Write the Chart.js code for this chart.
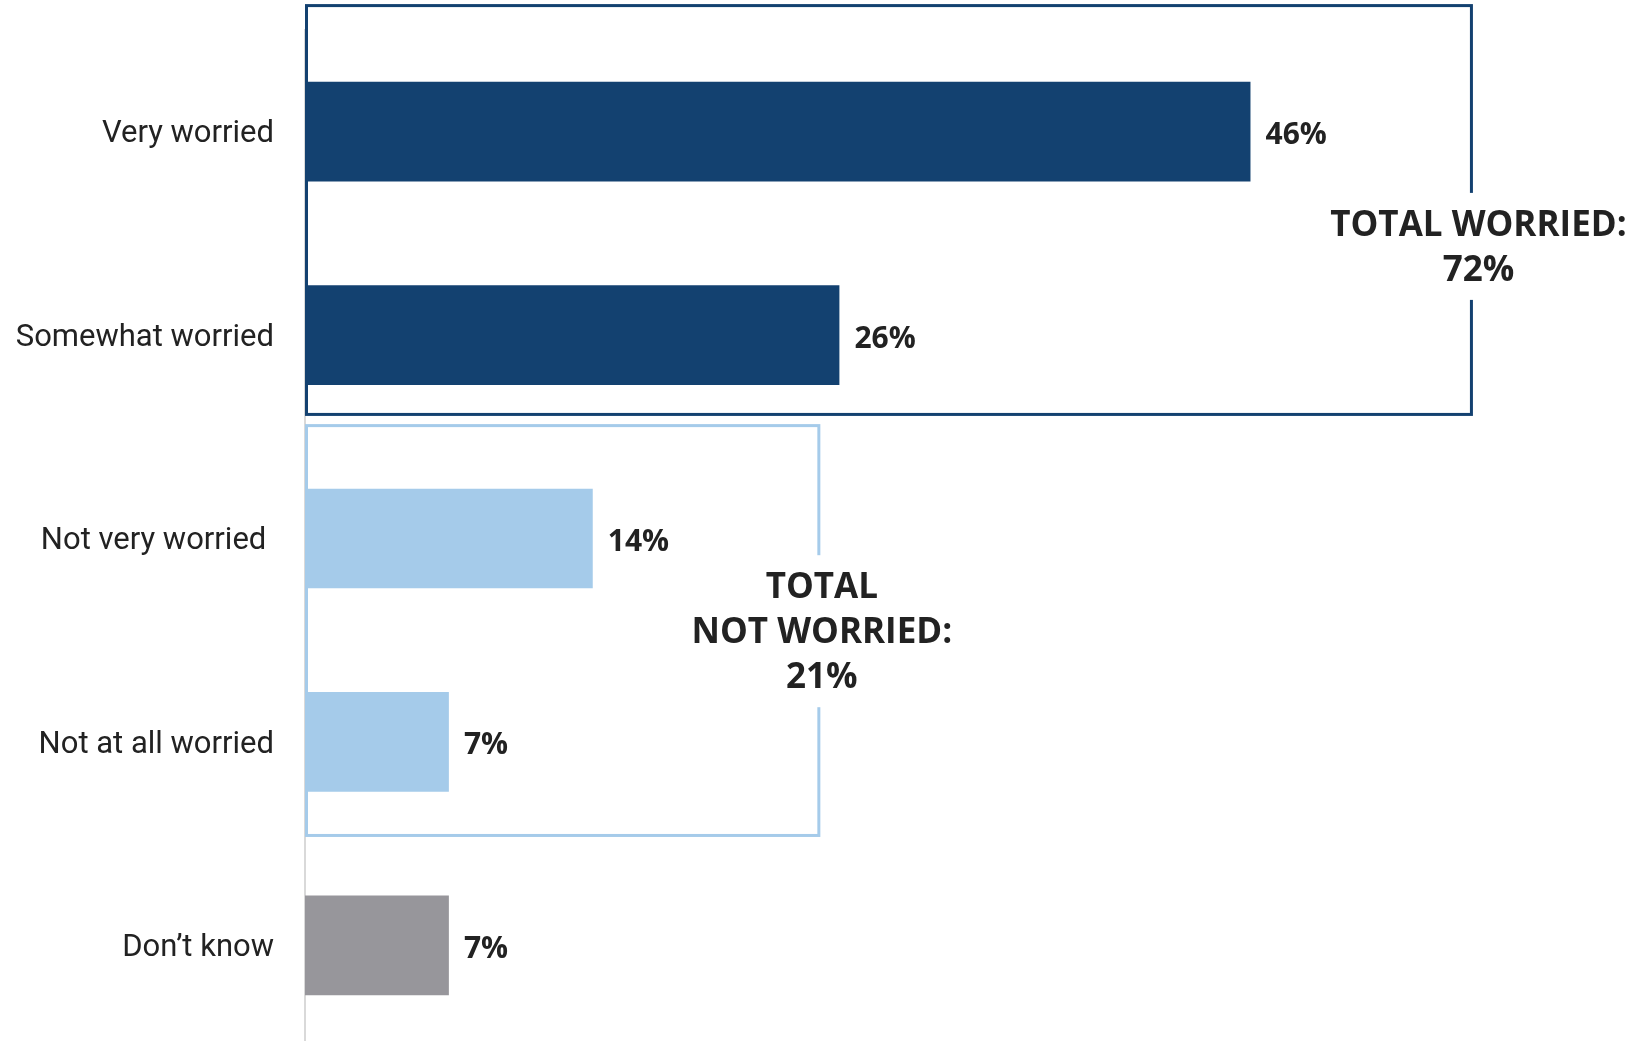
<!DOCTYPE html>
<html>
<head>
<meta charset="utf-8">
<script src="https://cdn.jsdelivr.net/npm/chart.js@4.4.1/dist/chart.umd.min.js"></script>
<style>
  html, body { margin: 0; padding: 0; background: #fff; overflow: hidden; }
  canvas { display: block; }
</style>
</head>
<body>
<canvas id="worryChart" width="1641" height="1047"></canvas>
<script>
// data
const categories = ['Very worried', 'Somewhat worried', 'Not very worried ', 'Not at all worried', 'Don\u2019t know'];
const values = [46, 26, 14, 7, 7];
const barColors = ['#134170', '#134170', '#a5cbea', '#a5cbea', '#97969b'];

// grouped totals (bracket boxes)
const groupNames = [['TOTAL WORRIED:', '72%'], ['TOTAL', 'NOT WORRIED:', '21%']];
const groupRows = [[0, 1], [2, 3]];
const groupBoxEnd = [56.75, 25];
const groupColors = ['#134170', '#a5cbea'];

const textColor = '#222222';

// value labels at end of each bar
const valueLabels = {
    id: 'valueLabels',
    afterDatasetsDraw(chart) {
        const ctx = chart.ctx;
        const meta = chart.getDatasetMeta(0);
        ctx.save();
        ctx.font = 'bold 30px "Open Sans"';
        ctx.fillStyle = textColor;
        ctx.textAlign = 'left';
        ctx.textBaseline = 'middle';
        meta.data.forEach((bar, i) => {
            ctx.fillText(values[i] + '%', bar.x + 15, bar.y + 4);
        });
        ctx.restore();
    }
};

// bracket boxes with the total labels sitting on the right edge
const groupBoxes = {
    id: 'groupBoxes',
    afterDatasetsDraw(chart) {
        const ctx = chart.ctx;
        const x = chart.scales.x, y = chart.scales.y;
        const step = y.getPixelForValue(1) - y.getPixelForValue(0);
        const pads = [[0.62, 0.39], [0.555, 0.46]];
        const shift = [15, -7];
        const dx = [7, 3];
        ctx.save();
        groupRows.forEach((rows, g) => {
            const left = x.getPixelForValue(0) + 1.5;
            const right = x.getPixelForValue(groupBoxEnd[g]);
            const top = y.getPixelForValue(rows[0]) - step * pads[g][0];
            const bottom = y.getPixelForValue(rows[1]) + step * pads[g][1];
            ctx.strokeStyle = groupColors[g];
            ctx.lineWidth = 3;
            ctx.strokeRect(left, top, right - left, bottom - top);

            // label, centred on the right edge
            const lines = groupNames[g];
            const lh = 45;
            const mid = (y.getPixelForValue(rows[0]) + y.getPixelForValue(rows[1])) / 2 + shift[g];
            const firstY = mid - (lines.length - 1) * lh / 2;
            const cx = right + dx[g];
            ctx.font = 'bold 35px "Open Sans"';
            const w = Math.max(...lines.map(t => ctx.measureText(t).width));
            ctx.fillStyle = '#fff';
            ctx.fillRect(cx - w / 2 - 4, firstY - 33, w + 8, (lines.length - 1) * lh + 62);
            ctx.fillStyle = textColor;
            ctx.textAlign = 'center';
            ctx.textBaseline = 'middle';
            lines.forEach((t, k) => ctx.fillText(t, cx, firstY + k * lh));
        });
        ctx.restore();
    }
};

new Chart(document.getElementById('worryChart').getContext('2d'), {
    type: 'bar',
    data: {
        labels: categories,
        datasets: [{
            data: values,
            backgroundColor: barColors,
            borderWidth: 0,
            barPercentage: 0.49,
            categoryPercentage: 1.0
        }]
    },
    options: {
        indexAxis: 'y',
        responsive: false,
        animation: false,
        layout: { autoPadding: false, padding: { top: 30, right: 0, bottom: 0, left: 0 } },
        plugins: {
            legend: { display: false },
            tooltip: { enabled: false }
        },
        scales: {
            x: {
                display: false,
                min: 0,
                max: 65
            },
            y: {
                afterFit(scale) {
                    scale.width = 305;
                    scale.paddingTop = 0;
                    scale.paddingBottom = 0;
                },
                grid: { display: false, drawTicks: false },
                border: { display: true, color: '#d9d9d9', width: 2 },
                ticks: {
                    color: textColor,
                    padding: 31,
                    labelOffset: 3,
                    font: { family: 'Roboto', size: 31 }
                }
            }
        }
    },
    plugins: [valueLabels, groupBoxes]
});
</script>
</body>
</html>
